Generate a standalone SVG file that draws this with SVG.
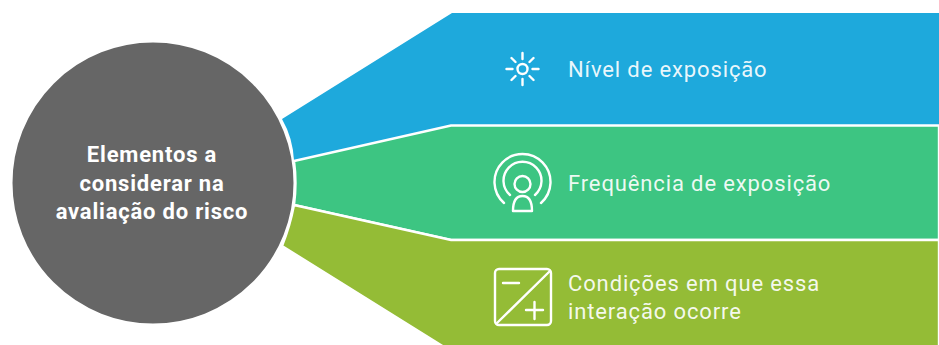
<svg xmlns="http://www.w3.org/2000/svg" width="939" height="345" viewBox="0 0 939 345">
<style>
.t{font-family:Roboto,"Liberation Sans",sans-serif;font-size:22px;fill:#fff;fill-opacity:.92;letter-spacing:.87px}
.c{font-family:Roboto,"Liberation Sans",sans-serif;font-size:22px;font-weight:700;fill:#fff;text-anchor:middle;letter-spacing:.8px}
.i{fill:none;stroke:#fff;stroke-width:2.4;stroke-linecap:round;stroke-linejoin:round}
.b{stroke:#fff;stroke-width:2.4}
</style>
<rect width="939" height="345" fill="#fff"/>
<g id="connectors">
<path d="M282 119 L452 13 H939 V125.500 H451 L294 161 Q293 138 282 119 Z" fill="#1ea9dc"/>
<path d="M294 161 L451 125.500 H939 V240 H451 L294 205 Q297 183 294 161 Z" fill="#3dc582" class="b"/>
<path d="M294 205 L451 240 H939 V347 H444 L282 246 Q290 226 294 205 Z" fill="#94bc36" class="b"/>
</g>
<g id="center">
<circle cx="153" cy="183" r="141.500" fill="#666" stroke="#fff" stroke-width="2"/>
<text class="c" x="152" y="162">Elementos a</text>
<text class="c" x="152" y="191">considerar na</text>
<text class="c" x="152" y="219">avaliação do risco</text>
</g>
<g id="n1">
<g class="i">
<circle cx="522.500" cy="69" r="5"/>
<path d="M522.500 53V59M522.500 79V85M506.500 69H512.500M532.500 69H538.500M511.500 58L515.500 62M533.500 58L529.500 62M511.500 80L515.500 76M533.500 80L529.500 76"/>
</g>
<text class="t" x="568" y="77">Nível de exposição</text>
</g>
<g id="n2">
<g class="i">
<path d="M504 203A28 28 0 1 1 541 203"/>
<path d="M510 195A19 19 0 1 1 535 195"/>
<circle cx="522.500" cy="184" r="8"/>
<path d="M513 211Q513 196 522.500 196Q532 196 532 211Z"/>
</g>
<text class="t" x="568" y="191">Frequência de exposição</text>
</g>
<g id="n3">
<g class="i">
<rect x="495" y="269" width="56" height="56" rx="4"/>
<path d="M497 323L550 271M503 283H519M526 310H543M534.500 302V319"/>
</g>
<text class="t" x="568" y="291">Condições em que essa</text>
<text class="t" x="568" y="319">interação ocorre</text>
</g>
</svg>
